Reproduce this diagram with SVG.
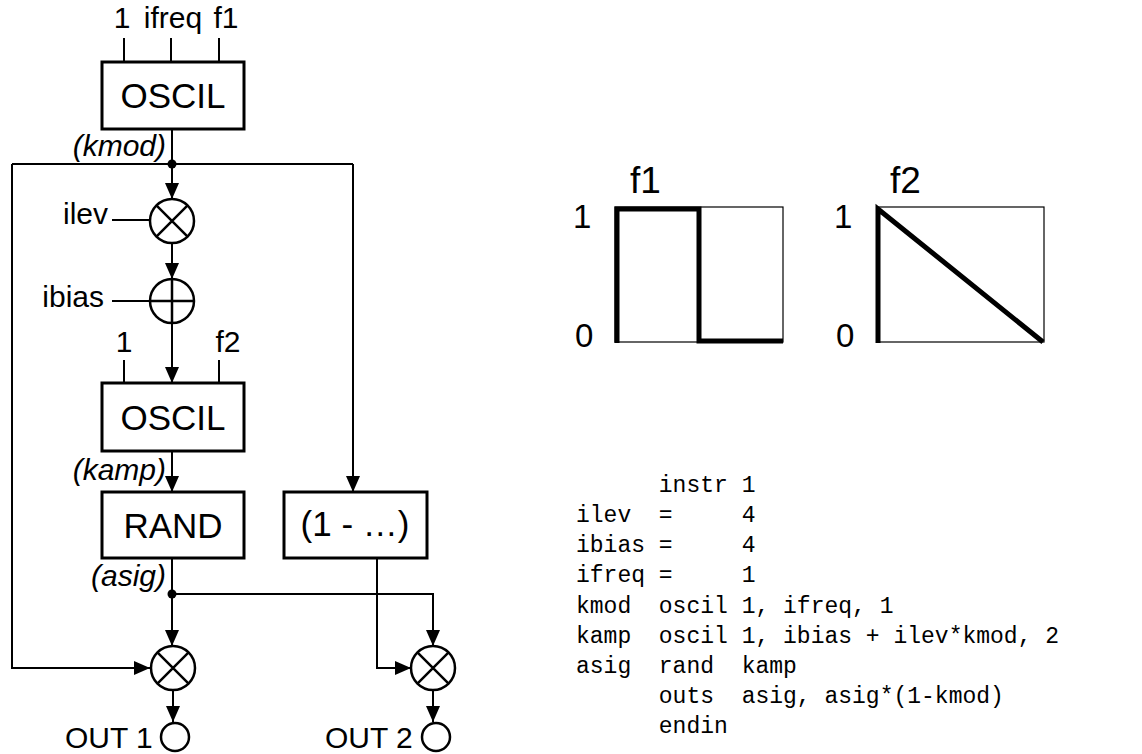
<svg xmlns="http://www.w3.org/2000/svg" width="1142" height="754" viewBox="0 0 1142 754">
<style>
  .lbl { font-family: "Liberation Sans", Arial, sans-serif; font-size: 30px; fill: #000; }
  .it { font-family: "Liberation Sans", Arial, sans-serif; font-size: 30px; font-style: italic; fill: #000; }
  .box { fill: #fff; stroke: #000; stroke-width: 3; }
  .boxtxt { font-family: "Liberation Sans", Arial, sans-serif; font-size: 35px; fill: #000; text-anchor: middle; }
  .op { fill: #fff; stroke: #000; stroke-width: 2.5; }
  .opl { stroke: #000; stroke-width: 2.5; fill: none; }
  .wire { fill: none; stroke: #000; stroke-width: 2; }
  .arr { fill: none; stroke: #000; stroke-width: 2; marker-end: url(#ah); }
  .code { font-family: "Liberation Mono", "Courier New", monospace; font-size: 23px; fill: #000; }
  .glbl { font-family: "Liberation Sans", Arial, sans-serif; font-size: 33px; fill: #000; }
  .gttl { font-family: "Liberation Sans", Arial, sans-serif; font-size: 37px; fill: #000; }
  .gbox { fill: #fff; stroke: #000; stroke-width: 1.2; }
  .gthick { fill: none; stroke: #000; stroke-width: 5; stroke-linejoin: miter; }
</style>
<defs>
  <marker id="ah" markerWidth="16" markerHeight="14" refX="16" refY="7" orient="auto" markerUnits="userSpaceOnUse">
    <path d="M0,0 L16,7 L0,14 z" fill="#000"/>
  </marker>
</defs>
<rect width="1142" height="754" fill="#fff"/>

<g id="connectors">
  <line class="wire" x1="124" y1="38" x2="124" y2="62"/>
  <line class="wire" x1="171" y1="38" x2="171" y2="62"/>
  <line class="wire" x1="219" y1="38" x2="219" y2="62"/>
  <line class="wire" x1="172" y1="129" x2="172" y2="164"/>
  <polyline class="wire" points="12,164 353,164"/>
  <path class="arr" d="M172,164 V199"/>
  <path class="arr" d="M12,164 V668 H150"/>
  <path class="arr" d="M353,164 V492"/>
  <line class="wire" x1="112" y1="220" x2="150" y2="220"/>
  <line class="wire" x1="112" y1="301" x2="150" y2="301"/>
  <path class="arr" d="M172,243 V279"/>
  <path class="arr" d="M172,323 V383"/>
  <line class="wire" x1="124" y1="360" x2="124" y2="383"/>
  <line class="wire" x1="219" y1="360" x2="219" y2="383"/>
  <path class="arr" d="M172,451 V492"/>
  <line class="wire" x1="172" y1="558" x2="172" y2="594"/>
  <path class="arr" d="M172,594 V646"/>
  <path class="arr" d="M172,594 H433 V646"/>
  <path class="arr" d="M377,558 V668 H411"/>
  <path class="arr" d="M173,690 V722"/>
  <path class="arr" d="M433,690 V722"/>
  <circle cx="172" cy="164" r="4.5" fill="#000"/>
  <circle cx="172" cy="594" r="4.5" fill="#000"/>
</g>

<g id="oscil1">
  <text class="lbl" x="122" y="28" text-anchor="middle" font-size="31">1</text>
  <text class="lbl" x="173" y="28" text-anchor="middle" font-size="31">ifreq</text>
  <text class="lbl" x="226" y="28" text-anchor="middle" font-size="31">f1</text>
  <rect class="box" x="102" y="62" width="142" height="67"/>
  <text class="boxtxt" x="173" y="108">OSCIL</text>
  <text class="it" x="166" y="156" text-anchor="end">(kmod)</text>
</g>

<g id="mult-ilev">
  <text class="lbl" x="108" y="224" text-anchor="end">ilev</text>
  <circle class="op" cx="172" cy="221" r="22"/>
  <path class="opl" d="M156.4,205.4 L187.6,236.6 M187.6,205.4 L156.4,236.6"/>
</g>

<g id="add-ibias">
  <text class="lbl" x="104" y="307" text-anchor="end">ibias</text>
  <circle class="op" cx="172" cy="301" r="22"/>
  <path class="opl" d="M150,301 H194 M172,279 V323"/>
</g>

<g id="oscil2">
  <text class="lbl" x="124" y="352" text-anchor="middle" font-size="28">1</text>
  <text class="lbl" x="228" y="352" text-anchor="middle" font-size="28">f2</text>
  <rect class="box" x="102" y="383" width="142" height="68"/>
  <text class="boxtxt" x="173" y="430">OSCIL</text>
  <text class="it" x="166" y="480" text-anchor="end">(kamp)</text>
</g>

<g id="rand">
  <rect class="box" x="102" y="492" width="142" height="66"/>
  <text class="boxtxt" x="173" y="538">RAND</text>
  <text class="it" x="166" y="586" text-anchor="end">(asig)</text>
</g>

<g id="one-minus">
  <rect class="box" x="284" y="492" width="143" height="66"/>
  <text class="boxtxt" x="355" y="536" font-size="32">(1 - …)</text>
</g>

<g id="mult1">
  <circle class="op" cx="173" cy="668" r="22"/>
  <path class="opl" d="M157.4,652.4 L188.6,683.6 M188.6,652.4 L157.4,683.6"/>
</g>

<g id="mult2">
  <circle class="op" cx="433" cy="668" r="22"/>
  <path class="opl" d="M417.4,652.4 L448.6,683.6 M448.6,652.4 L417.4,683.6"/>
</g>

<g id="out1">
  <text class="lbl" x="65" y="748" font-size="29">OUT 1</text>
  <circle class="op" cx="175" cy="737" r="14" stroke-width="2"/>
</g>

<g id="out2">
  <text class="lbl" x="325" y="748" font-size="29">OUT 2</text>
  <circle class="op" cx="436" cy="737" r="14" stroke-width="2"/>
</g>

<g id="graph-f1">
  <text class="gttl" x="630" y="193">f1</text>
  <text class="glbl" x="573" y="228">1</text>
  <text class="glbl" x="575" y="347">0</text>
  <rect class="gbox" x="615" y="207" width="168" height="135"/>
  <path class="gthick" d="M617,343 V209 H699 V341 H783"/>
</g>

<g id="graph-f2">
  <text class="gttl" x="890" y="193">f2</text>
  <text class="glbl" x="834" y="228">1</text>
  <text class="glbl" x="836" y="347">0</text>
  <rect class="gbox" x="877" y="207" width="167" height="135"/>
  <path class="gthick" d="M878,343 V209 L1043,342"/>
</g>

<g id="code">
  <text class="code" x="576" y="492" xml:space="preserve">      instr 1</text>
  <text class="code" x="576" y="522" xml:space="preserve">ilev  =     4</text>
  <text class="code" x="576" y="552" xml:space="preserve">ibias =     4</text>
  <text class="code" x="576" y="582" xml:space="preserve">ifreq =     1</text>
  <text class="code" x="576" y="613" xml:space="preserve">kmod  oscil 1, ifreq, 1</text>
  <text class="code" x="576" y="643" xml:space="preserve">kamp  oscil 1, ibias + ilev*kmod, 2</text>
  <text class="code" x="576" y="673" xml:space="preserve">asig  rand  kamp</text>
  <text class="code" x="576" y="703" xml:space="preserve">      outs  asig, asig*(1-kmod)</text>
  <text class="code" x="576" y="733" xml:space="preserve">      endin</text>
</g>
</svg>
